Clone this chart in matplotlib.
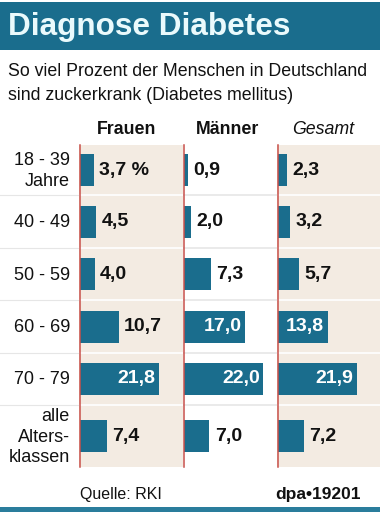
import matplotlib
matplotlib.use("Agg")
import matplotlib.pyplot as plt
from matplotlib.patches import Rectangle

plt.rcParams['font.family'] = ['Liberation Sans', 'DejaVu Sans']

# data
age_groups = ["18 - 39\nJahre", "40 - 49", "50 - 59", "60 - 69", "70 - 79", "alle\nAlters-\nklassen"]
frauen = [3.7, 4.5, 4.0, 10.7, 21.8, 7.4]
maenner = [0.9, 2.0, 7.3, 17.0, 22.0, 7.0]
gesamt = [2.3, 3.2, 5.7, 13.8, 21.9, 7.2]
columns = ["Frauen", "Männer", "Gesamt"]

BLUE = "#1a6d8d"
BEIGE = "#f3ebe2"
RED = "#c8504a"

W, H = 384, 512
fig = plt.figure(figsize=(W / 100, H / 100), dpi=100)
fig.patch.set_facecolor("white")

# full-figure overlay in pixel coordinates for decoration
bg = fig.add_axes([0, 0, 1, 1])
bg.set_xlim(0, W)
bg.set_ylim(H, 0)
bg.axis("off")

bg.add_patch(Rectangle((0, 2), 380, 48, color=BLUE, lw=0))
bg.text(8, 27, "Diagnose Diabetes", color="#eafafc", fontsize=22.7,
        fontweight="bold", va="center", ha="left")
bg.text(8, 72, "So viel Prozent der Menschen in Deutschland", fontsize=12.8,
        va="center", ha="left", color="#111111")
bg.text(8, 95, "sind zuckerkrank (Diabetes mellitus)", fontsize=12.8,
        va="center", ha="left", color="#111111")
bg.add_patch(Rectangle((0, 507), 380, 5, color="#2a7d9c", lw=0))
bg.text(80, 494, "Quelle: RKI", fontsize=11.5, va="center", ha="left", color="#111111")
bg.text(361, 494, "dpa\u202219201", fontsize=12.5, fontweight="bold",
        va="center", ha="right", color="#111111")

# table geometry (pixels)
row_edges = [145, 195, 248, 300, 353, 405, 467]
panels = [(79, 183, BEIGE), (183, 277, "white"), (277, 380, BEIGE)]
header_x = [127, 228, 323]
px_per_unit = 3.6
bar_h = 32

# row separators across the label area
for y in row_edges[1:-1]:
    bg.plot([0, 79], [y, y], color="#e6e6e6", lw=0.8)

centers = [(row_edges[i] + row_edges[i + 1]) / 2 for i in range(len(age_groups))]
for lab, yc in zip(age_groups, centers):
    bg.text(70, yc + 1, lab, fontsize=13, ha="right", va="center",
            multialignment="right", linespacing=1.25, color="#111111")

for (x0, x1, face), name, vals, hx in zip(panels, columns, [frauen, maenner, gesamt], header_x):
    ax = fig.add_axes([x0 / W, 1 - row_edges[-1] / H, (x1 - x0) / W,
                       (row_edges[-1] - row_edges[0]) / H])
    ax.set_xlim(0, (x1 - x0) / px_per_unit)
    ax.set_ylim(row_edges[-1], row_edges[0])
    ax.set_facecolor(face)
    for s in ax.spines.values():
        s.set_visible(False)
    ax.set_xticks([])
    ax.set_yticks([])
    sep = "white" if face == BEIGE else "#e6e6e6"
    for y in row_edges[1:-1]:
        ax.axhline(y, color=sep, lw=1.2)
    ax.axvline(0.15, color=RED, lw=1.1, clip_on=False, zorder=5)
    ax.barh(centers, vals, height=bar_h, left=0.35, color=BLUE, lw=0)
    for i, (v, yc) in enumerate(zip(vals, centers)):
        txt = f"{v:.1f}".replace(".", ",")
        if name == "Frauen" and i == 0:
            txt += " %"
        if v > 13:
            ax.text(v + 0.35 - 1.0, yc, txt, color="white", fontsize=14,
                    fontweight="bold", ha="right", va="center")
        else:
            ax.text(v + 0.35 + 1.5, yc, txt, color="#111111", fontsize=14,
                    fontweight="bold", ha="left", va="center")
    if name == "Gesamt":
        bg.text(hx, 130, name, fontsize=12.8, style="italic", ha="center",
                va="center", color="#111111")
    else:
        bg.text(hx, 130, name, fontsize=12.8, fontweight="bold", ha="center",
                va="center", color="#111111")

fig.savefig("out.png", dpi=100)
